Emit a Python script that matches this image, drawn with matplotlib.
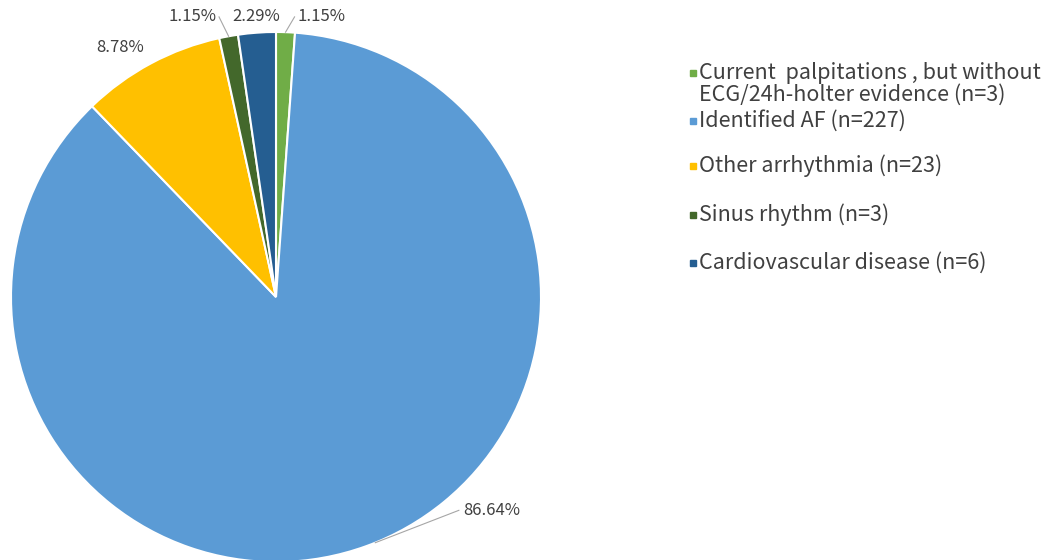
import numpy as np
import matplotlib
matplotlib.use('Agg')
import matplotlib.pyplot as plt

plt.rcParams['font.family'] = ['Noto Sans CJK SC', 'DejaVu Sans']

# Data
categories = ['Current  palpitations , but without\nECG/24h-holter evidence (n=3)',
              'Identified AF (n=227)',
              'Other arrhythmia (n=23)',
              'Sinus rhythm (n=3)',
              'Cardiovascular disease (n=6)']
counts = [3, 227, 23, 3, 6]
pct_labels = ['1.15%', '86.64%', '8.78%', '1.15%', '2.29%']
colors = ['#70AD47', '#5B9BD5', '#FFC000', '#43682B', '#255E91']

text_col = '#404040'

fig = plt.figure(figsize=(10.48, 5.6), dpi=100)
# pie centre ~ (276, 297) px, radius ~265 px
ax = fig.add_axes([11 / 1048, (560 - 297 - 265) / 560, 530 / 1048, 530 / 560])
wedges, _ = ax.pie(counts, colors=colors, startangle=90, counterclock=False,
                   radius=1, wedgeprops=dict(edgecolor='white', linewidth=1.5))
ax.set_xlim(-1, 1)
ax.set_ylim(-1, 1)
ax.set_aspect('equal')
ax.axis('off')

# label text positions (data coords) and leader line end points
label_pos = [(0.17, 1.057), (0.815, -0.805), (-0.59, 0.94), (-0.315, 1.057), (-0.075, 1.057)]
leader_end = [(0.07, 1.057), (0.69, -0.805), None, (-0.215, 1.057), None]

for w, lab, pos, end in zip(wedges, pct_labels, label_pos, leader_end):
    mid = np.deg2rad((w.theta1 + w.theta2) / 2)
    ex, ey = np.cos(mid), np.sin(mid)
    ax.text(pos[0], pos[1], lab, ha='center', va='center', fontsize=12,
            color=text_col, clip_on=False)
    if end is not None:
        if lab == '86.64%':
            ex, ey = np.cos(np.deg2rad(-68)), np.sin(np.deg2rad(-68))
        ax.plot([ex, end[0]], [ey, end[1]], color='#A6A6A6', lw=0.8, clip_on=False)

# legend drawn manually
leg_y = [73, 121, 166, 215, 263]
for cat, col, y in zip(categories, colors, leg_y):
    fig.patches.append(plt.Rectangle((690 / 1048, 1 - (y + 3) / 560), 6 / 1048, 6 / 560,
                                     transform=fig.transFigure, color=col))
    lines = cat.split('\n')
    for i, ln in enumerate(lines):
        fig.text(699 / 1048, 1 - (y + i * 22) / 560, ln, ha='left', va='center',
                 fontsize=15.5, color=text_col)

fig.savefig('out.png', dpi=100)
